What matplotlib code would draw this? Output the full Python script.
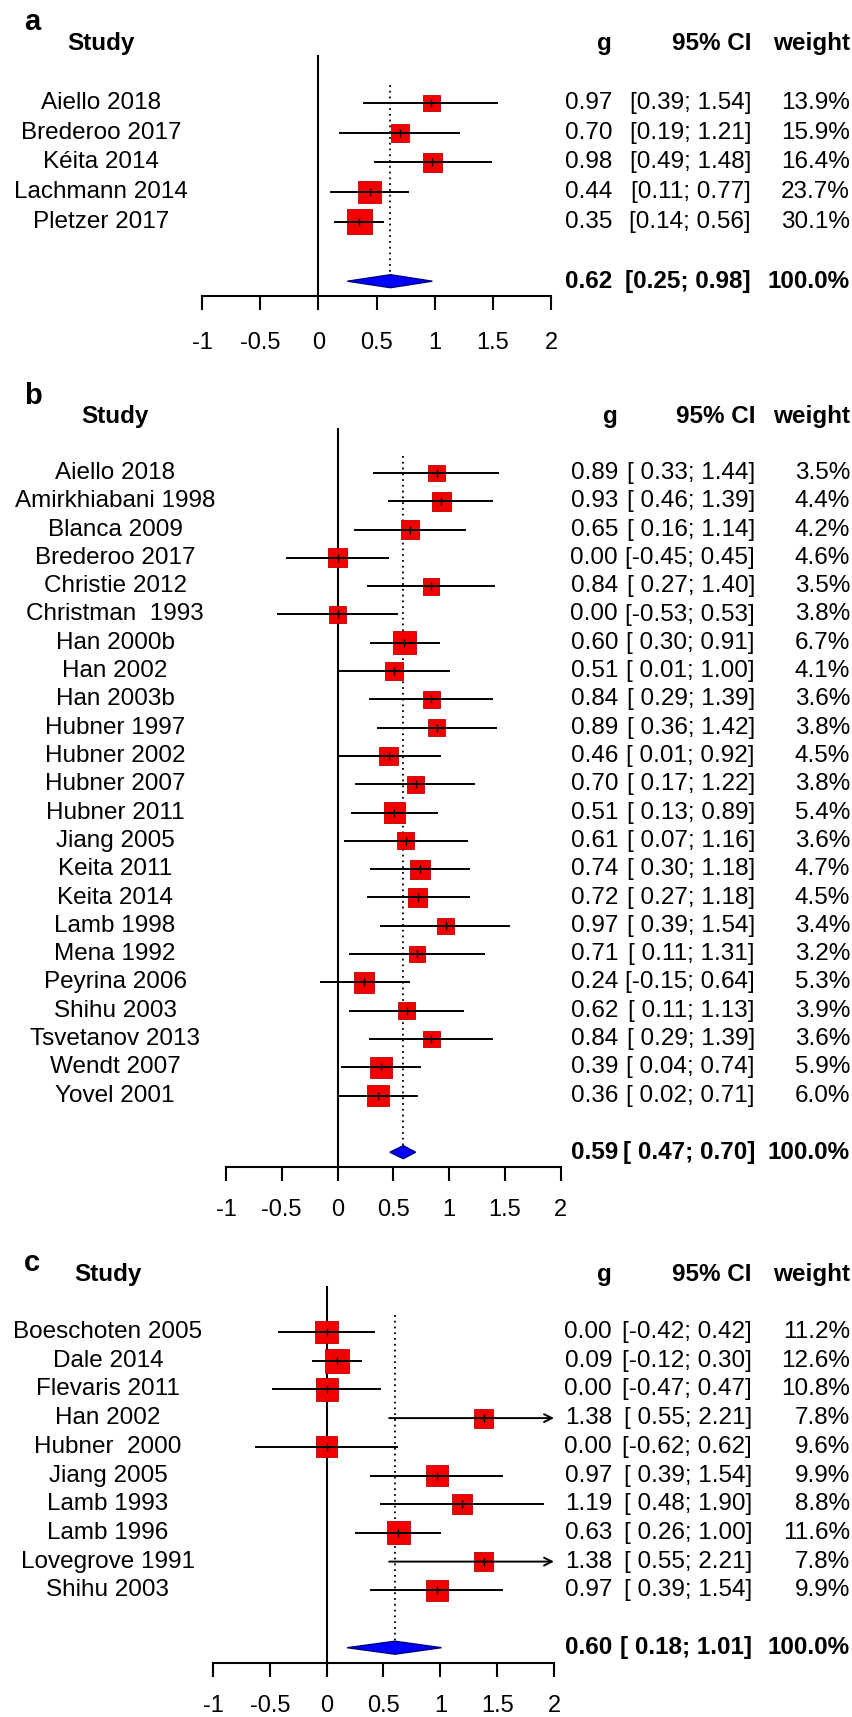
import numpy as np
import matplotlib
matplotlib.use('Agg')
import matplotlib.pyplot as plt
import matplotlib.transforms as mtransforms
from matplotlib.patches import Polygon

plt.rcParams['font.family'] = ['Liberation Sans', 'DejaVu Sans']

# Panel a
studies_a = ["Aiello 2018", "Brederoo 2017", "Kéita 2014", "Lachmann 2014", "Pletzer 2017"]
g_a = [0.97, 0.70, 0.98, 0.44, 0.35]
lo_a = [0.39, 0.19, 0.49, 0.11, 0.14]
hi_a = [1.54, 1.21, 1.48, 0.77, 0.56]
w_a = [13.9, 15.9, 16.4, 23.7, 30.1]
summary_a = [0.62, 0.25, 0.98]

# Panel b
studies_b = ["Aiello 2018", "Amirkhiabani 1998", "Blanca 2009", "Brederoo 2017",
             "Christie 2012", "Christman  1993", "Han 2000b", "Han 2002", "Han 2003b",
             "Hubner 1997", "Hubner 2002", "Hubner 2007", "Hubner 2011", "Jiang 2005",
             "Keita 2011", "Keita 2014", "Lamb 1998", "Mena 1992", "Peyrina 2006",
             "Shihu 2003", "Tsvetanov 2013", "Wendt 2007", "Yovel 2001"]
g_b = [0.89, 0.93, 0.65, 0.00, 0.84, 0.00, 0.60, 0.51, 0.84, 0.89, 0.46, 0.70,
       0.51, 0.61, 0.74, 0.72, 0.97, 0.71, 0.24, 0.62, 0.84, 0.39, 0.36]
lo_b = [0.33, 0.46, 0.16, -0.45, 0.27, -0.53, 0.30, 0.01, 0.29, 0.36, 0.01, 0.17,
        0.13, 0.07, 0.30, 0.27, 0.39, 0.11, -0.15, 0.11, 0.29, 0.04, 0.02]
hi_b = [1.44, 1.39, 1.14, 0.45, 1.40, 0.53, 0.91, 1.00, 1.39, 1.42, 0.92, 1.22,
        0.89, 1.16, 1.18, 1.18, 1.54, 1.31, 0.64, 1.13, 1.39, 0.74, 0.71]
w_b = [3.5, 4.4, 4.2, 4.6, 3.5, 3.8, 6.7, 4.1, 3.6, 3.8, 4.5, 3.8,
       5.4, 3.6, 4.7, 4.5, 3.4, 3.2, 5.3, 3.9, 3.6, 5.9, 6.0]
summary_b = [0.59, 0.47, 0.70]

# Panel c
studies_c = ["Boeschoten 2005", "Dale 2014", "Flevaris 2011", "Han 2002", "Hubner  2000",
             "Jiang 2005", "Lamb 1993", "Lamb 1996", "Lovegrove 1991", "Shihu 2003"]
g_c = [0.00, 0.09, 0.00, 1.38, 0.00, 0.97, 1.19, 0.63, 1.38, 0.97]
lo_c = [-0.42, -0.12, -0.47, 0.55, -0.62, 0.39, 0.48, 0.26, 0.55, 0.39]
hi_c = [0.42, 0.30, 0.47, 2.21, 0.62, 1.54, 1.90, 1.00, 2.21, 1.54]
w_c = [11.2, 12.6, 10.8, 7.8, 9.6, 9.9, 8.8, 11.6, 7.8, 9.9]
summary_c = [0.60, 0.18, 1.01]

tick_values = [-1, -0.5, 0, 0.5, 1, 1.5, 2]
tick_labels = ["-1", "-0.5", "0", "0.5", "1", "1.5", "2"]

W, H = 852, 1717
fig = plt.figure(figsize=(W / 100, H / 100), dpi=100)
FS = 17.5


def draw_panel(letter, studies, g, lo, hi, w, summ, lay, pad_ci):
    # lay: pixel layout of the panel
    n = len(studies)
    srow = n + 1
    sp = lay['sp']
    top = lay['row0'] - 3 * sp
    bottom = lay['row0'] + (n + 3) * sp
    ax = fig.add_axes([lay['x0'] / W, 1 - bottom / H,
                       (lay['x1'] - lay['x0']) / W, (bottom - top) / H])
    ax.set_xlim(-1, 2)
    ax.set_ylim(n + 3, -3)
    ax.patch.set_visible(False)
    for s in ['top', 'left', 'right']:
        ax.spines[s].set_visible(False)
    ax.set_yticks([])

    # x axis under the summary row
    axis_row = srow + 15 / sp
    ax.spines['bottom'].set_position(('data', axis_row))
    ax.spines['bottom'].set_bounds(-1, 2)
    ax.spines['bottom'].set_linewidth(1.5)
    ax.set_xticks(tick_values)
    ax.set_xticklabels(tick_labels)
    ax.tick_params(axis='x', direction='out', length=10, width=1.5,
                   labelsize=17, pad=lay['pad'])

    # null line and summary line
    ax.plot([0, 0], [-1.57, axis_row], color='black', lw=1.5, clip_on=False)
    ax.plot([summ[0], summ[0]], [-0.6, srow], color='black', lw=1.3,
            linestyle=(0, (1, 2.2)), clip_on=False, zorder=1)

    # squares sized by weight, CI lines on top
    rows = np.arange(n)
    wmax = max(w)
    side = lay['smax'] * np.sqrt(np.array(w) / wmax)
    ax.scatter(g, rows, marker='s', s=(side * 0.72) ** 2, color='#f20000',
               edgecolors='#c00000', linewidths=0.6, zorder=2, clip_on=False)
    for i in range(n):
        if hi[i] > 2:
            ax.annotate('', xy=(2, i), xytext=(lo[i], i),
                        arrowprops=dict(arrowstyle='->', lw=1.4, color='black',
                                        shrinkA=0, shrinkB=0, mutation_scale=14),
                        annotation_clip=False, zorder=3)
        else:
            ax.plot([lo[i], hi[i]], [i, i], color='black', lw=1.4, zorder=3,
                    clip_on=False)
    ax.plot(g, rows, linestyle='none', marker='|', markersize=6, mew=1,
            color='black', zorder=4, clip_on=False)

    # summary diamond
    h = 6.5 / sp
    est, slo, shi = summ
    ax.add_patch(Polygon([(slo, srow), (est, srow - h), (shi, srow), (est, srow + h)],
                         closed=True, facecolor='#0000ff', edgecolor='#000080',
                         lw=1, zorder=3, clip_on=False))

    tr = mtransforms.blended_transform_factory(fig.transFigure, ax.transData)

    def ci_text(a, b):
        if pad_ci:
            return f"[{a:5.2f}; {b:.2f}]"
        return f"[{a:.2f}; {b:.2f}]"

    # headers
    ax.text(lay['name_x'] / W, -2, "Study", transform=tr, ha='center', va='center',
            fontsize=FS, fontweight='bold')
    ax.text(lay['g_x'] / W, -2, "g", transform=tr, ha='right', va='center',
            fontsize=FS, fontweight='bold')
    ax.text(lay['ci_x'] / W, -2, "95% CI", transform=tr, ha='right', va='center',
            fontsize=FS, fontweight='bold')
    ax.text(850 / W, -2, "weight", transform=tr, ha='right', va='center',
            fontsize=FS, fontweight='bold')

    # study rows
    for i in range(n):
        ax.text(lay['name_x'] / W, i, studies[i], transform=tr, ha='center',
                va='center', fontsize=FS)
        ax.text(lay['g_x'] / W, i, f"{g[i]:.2f}", transform=tr, ha='right',
                va='center', fontsize=FS)
        ax.text(lay['ci_x'] / W, i, ci_text(lo[i], hi[i]), transform=tr, ha='right',
                va='center', fontsize=FS)
        ax.text(850 / W, i, f"{w[i]:.1f}%", transform=tr, ha='right',
                va='center', fontsize=FS)

    # summary row
    ax.text(lay['g_x'] / W, srow, f"{est:.2f}", transform=tr, ha='right',
            va='center', fontsize=FS, fontweight='bold')
    ax.text(lay['ci_x'] / W, srow, ci_text(slo, shi), transform=tr, ha='right',
            va='center', fontsize=FS, fontweight='bold')
    ax.text(850 / W, srow, "100.0%", transform=tr, ha='right',
            va='center', fontsize=FS, fontweight='bold')

    lx, ly = lay['label']
    fig.text(lx / W, 1 - ly / H, letter, ha='center', va='center',
             fontsize=21, fontweight='bold')


draw_panel('a', studies_a, g_a, lo_a, hi_a, w_a, summary_a,
           dict(x0=202, x1=551, row0=103, sp=29.7, smax=25, pad=16,
                name_x=101, g_x=612, ci_x=751, label=(32, 22)), False)
draw_panel('b', studies_b, g_b, lo_b, hi_b, w_b, summary_b,
           dict(x0=226, x1=560.5, row0=473, sp=28.3, smax=23, pad=13,
                name_x=115, g_x=618, ci_x=755, label=(33, 396)), True)
draw_panel('c', studies_c, g_c, lo_c, hi_c, w_c, summary_c,
           dict(x0=213, x1=554, row0=1332, sp=28.7, smax=24, pad=13,
                name_x=108, g_x=612, ci_x=752, label=(32, 1263)), True)

fig.savefig('out.png', dpi=100)
